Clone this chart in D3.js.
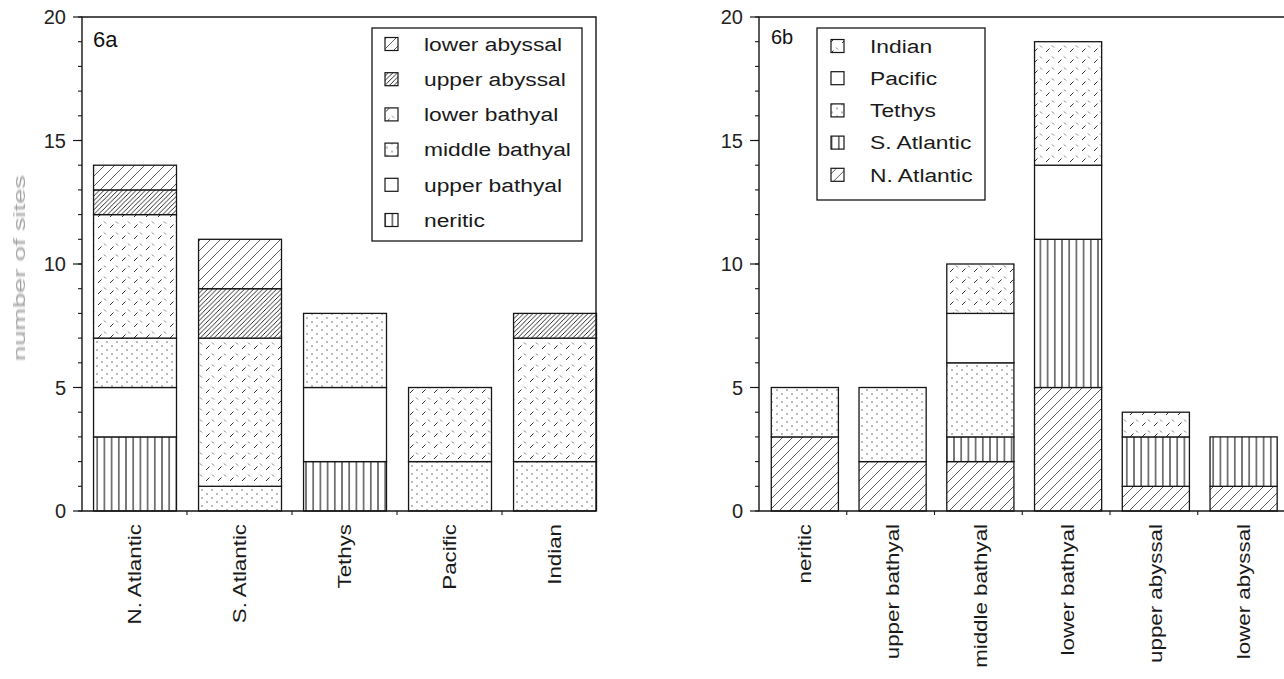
<!DOCTYPE html>
<html>
<head>
<meta charset="utf-8">
<script src="https://cdn.jsdelivr.net/npm/d3@7"></script>
<style>
  html, body { margin: 0; padding: 0; background: #fff; }
  svg { display: block; font-family: 'Liberation Sans', Arial, Helvetica, sans-serif; }
</style>
</head>
<body>
<div id="chart"></div>
<script>
// basins (6a categories, 6b series)
const BASINS = ['N. Atlantic', 'S. Atlantic', 'Tethys', 'Pacific', 'Indian'];
// palaeodepth zones (6a series, 6b categories)
const ZONES = ['neritic', 'upper bathyal', 'middle bathyal', 'lower bathyal', 'upper abyssal', 'lower abyssal'];

// number of sites per basin, one array per zone
const neritic       = [3, 0, 2, 0, 0];
const upperBathyal  = [2, 0, 3, 0, 0];
const middleBathyal = [2, 1, 3, 2, 2];
const lowerBathyal  = [5, 6, 0, 3, 5];
const upperAbyssal  = [1, 2, 0, 0, 1];
const lowerAbyssal  = [1, 2, 0, 0, 0];

const Y_TICKS = [0, 5, 10, 15, 20];
const Y_LABEL = 'number of sites';

const zoneSeries = [neritic, upperBathyal, middleBathyal, lowerBathyal, upperAbyssal, lowerAbyssal];

const tableA = BASINS.map((b, i) => {
  const row = { cat: b };
  ZONES.forEach((z, k) => { row[z] = zoneSeries[k][i]; });
  return row;
});
const tableB = ZONES.map((z, k) => {
  const row = { cat: z };
  BASINS.forEach((b, i) => { row[b] = zoneSeries[k][i]; });
  return row;
});

const INK = '#161616';

const zonePattern = {
  'neritic': 'url(#vlines)',
  'upper bathyal': '#fff',
  'middle bathyal': 'url(#dots)',
  'lower bathyal': 'url(#dashes)',
  'upper abyssal': 'url(#hatchDense)',
  'lower abyssal': 'url(#hatchSparse)',
};
const basinPattern = {
  'N. Atlantic': 'url(#hatchSparse)',
  'S. Atlantic': 'url(#vlines)',
  'Tethys': 'url(#dots)',
  'Pacific': '#fff',
  'Indian': 'url(#dashes)',
};

const svg = d3.select('#chart').append('svg')
  .attr('width', 1284).attr('height', 679);

const defs = svg.append('defs');

function pattern(id, w, h) {
  return defs.append('pattern').attr('id', id)
    .attr('patternUnits', 'userSpaceOnUse')
    .attr('width', w).attr('height', h);
}

let p = pattern('vlines', 7.2, 10);
p.append('rect').attr('width', 7.2).attr('height', 10).attr('fill', '#fff');
p.append('line').attr('x1', 3.6).attr('x2', 3.6).attr('y1', 0).attr('y2', 10)
  .attr('stroke', INK).attr('stroke-width', 1.1);

p = pattern('dots', 10, 8);
p.append('rect').attr('width', 10).attr('height', 8).attr('fill', '#fff');
p.append('circle').attr('cx', 2).attr('cy', 2).attr('r', 0.75).attr('fill', '#555');
p.append('circle').attr('cx', 7).attr('cy', 6).attr('r', 0.75).attr('fill', '#555');

p = pattern('dashes', 12, 11);
p.append('rect').attr('width', 12).attr('height', 11).attr('fill', '#fff');
p.append('path').attr('d', 'M2,8 L5.5,4.5').attr('stroke', '#333').attr('stroke-width', 1);
p.append('path').attr('d', 'M8,1.5 L10,3.5').attr('stroke', '#666').attr('stroke-width', 0.9);

p = pattern('hatchDense', 4.6, 4.6);
p.append('rect').attr('width', 4.6).attr('height', 4.6).attr('fill', '#fff');
p.append('path').attr('d', 'M0,4.6 L4.6,0 M-1,1 L1,-1 M3.6,5.6 L5.6,3.6')
  .attr('stroke', INK).attr('stroke-width', 0.9);

p = pattern('hatchSparse', 10, 10);
p.append('rect').attr('width', 10).attr('height', 10).attr('fill', '#fff');
p.append('path').attr('d', 'M0,10 L10,0 M-1,1 L1,-1 M9,11 L11,9')
  .attr('stroke', '#333').attr('stroke-width', 0.8);

defs.append('filter').attr('id', 'soft')
  .append('feGaussianBlur').attr('stdDeviation', 0.6);

const y = d3.scaleLinear().domain([0, 20]).range([511, 17]);

function drawPanel(cfg) {
  const g = svg.append('g');
  const x = d3.scaleBand().domain(cfg.cats).range(cfg.xRange).padding(0);
  const step = x.step();
  const stack = d3.stack().keys(cfg.keys)(cfg.table);

  // bars
  stack.forEach(layer => {
    g.append('g').selectAll('rect')
      .data(layer.filter(d => d[1] > d[0]))
      .join('rect')
      .attr('x', d => x(d.data.cat) + step * cfg.inset)
      .attr('width', step * cfg.barFrac)
      .attr('y', d => y(d[1]))
      .attr('height', d => y(d[0]) - y(d[1]))
      .attr('fill', cfg.fillOf[layer.key])
      .attr('stroke', INK)
      .attr('stroke-width', 1.3);
  });

  // frame
  const x0 = cfg.xRange[0];
  g.append('path')
    .attr('d', `M${cfg.frameRight},${y(0)} L${x0},${y(0)} L${x0},${y(20)} L${cfg.frameRight},${y(20)}` +
      (cfg.closeRight ? ` L${cfg.frameRight},${y(0)}` : ''))
    .attr('fill', 'none').attr('stroke', INK).attr('stroke-width', 1.4);

  // y ticks
  g.append('g').selectAll('line.minor')
    .data(d3.range(0, 21))
    .join('line')
    .attr('x1', x0 - 4).attr('x2', x0)
    .attr('y1', d => y(d)).attr('y2', d => y(d))
    .attr('stroke', INK).attr('stroke-width', 1.1);
  g.append('g').selectAll('line.major')
    .data(Y_TICKS)
    .join('line')
    .attr('x1', x0 - 9).attr('x2', x0)
    .attr('y1', d => y(d)).attr('y2', d => y(d))
    .attr('stroke', INK).attr('stroke-width', 1.2);
  g.append('g').selectAll('text')
    .data(Y_TICKS)
    .join('text')
    .attr('x', x0 - 16).attr('y', d => y(d))
    .attr('text-anchor', 'end').attr('dominant-baseline', 'central')
    .attr('font-size', 20).attr('fill', '#222')
    .text(d => d);

  // x ticks between categories
  g.append('g').selectAll('line')
    .data(cfg.cats.slice(1))
    .join('line')
    .attr('x1', d => x(d)).attr('x2', d => x(d))
    .attr('y1', y(0)).attr('y2', y(0) + 4)
    .attr('stroke', INK).attr('stroke-width', 1.1);

  // rotated category labels
  g.append('g').selectAll('text')
    .data(cfg.cats)
    .join('text')
    .attr('transform', d => `translate(${x(d) + step * (cfg.inset + cfg.barFrac / 2)},524) rotate(-90) scale(1.24,1)`)
    .attr('text-anchor', 'end').attr('dominant-baseline', 'central')
    .attr('font-size', 18).attr('fill', '#1a1a1a')
    .text(d => d);

  // panel label
  g.append('text')
    .attr('x', cfg.tag.x).attr('y', cfg.tag.y)
    .attr('font-size', cfg.tag.size).attr('fill', '#111')
    .text(cfg.tag.text);

  // legend
  const L = cfg.legend;
  g.append('rect')
    .attr('x', L.x).attr('y', L.y).attr('width', L.w).attr('height', L.h)
    .attr('fill', '#fff').attr('stroke', INK).attr('stroke-width', 1.3);
  const items = cfg.keys.slice().reverse();
  const row = g.append('g').selectAll('g')
    .data(items)
    .join('g')
    .attr('transform', (d, i) => `translate(0,${L.row0 + i * L.rowStep})`);
  row.append('rect')
    .attr('x', L.swatchX).attr('y', -6.5).attr('width', 13).attr('height', 13)
    .attr('fill', d => cfg.fillOf[d])
    .attr('stroke', INK).attr('stroke-width', 1.2);
  row.append('text')
    .attr('transform', `translate(${L.textX},0) scale(1.2,1)`)
    .attr('dominant-baseline', 'central')
    .attr('font-size', 19).attr('fill', '#1a1a1a')
    .text(d => d);
}

drawPanel({
  cats: BASINS, keys: ZONES, table: tableA, fillOf: zonePattern,
  xRange: [82, 607], frameRight: 596, closeRight: true,
  inset: 0.11, barFrac: 0.79,
  tag: { text: '6a', x: 93, y: 47, size: 22 },
  legend: { x: 372, y: 28, w: 210, h: 213, row0: 44, rowStep: 35.2, swatchX: 385, textX: 424 },
});

drawPanel({
  cats: ZONES, keys: BASINS, table: tableB, fillOf: basinPattern,
  xRange: [759, 1285.5], frameRight: 1284, closeRight: false,
  inset: 0.14, barFrac: 0.765,
  tag: { text: '6b', x: 771, y: 44, size: 20 },
  legend: { x: 817, y: 28, w: 168, h: 172, row0: 46, rowStep: 32.2, swatchX: 831, textX: 870 },
});

// y axis title (faint in the scan)
svg.append('text')
  .attr('transform', 'translate(20,268) rotate(-90) scale(1.7,1)')
  .attr('text-anchor', 'middle').attr('dominant-baseline', 'central')
  .attr('font-size', 16).attr('fill', '#a0a0a0')
  .attr('filter', 'url(#soft)')
  .text(Y_LABEL);
</script>
</body>
</html>
